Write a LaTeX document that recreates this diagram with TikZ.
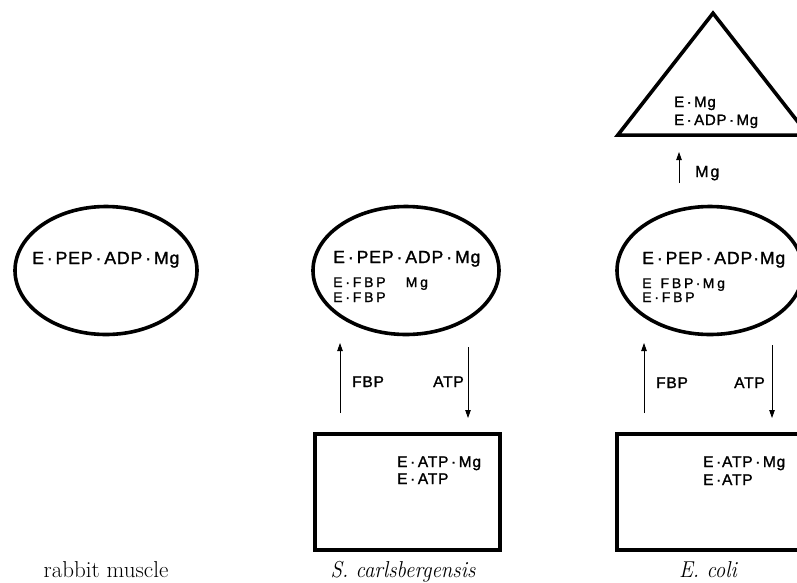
\documentclass[tikz,border=0pt]{standalone}
\usepackage{fontspec}
\newfontfamily\labelfont[FakeBold=1.3, LetterSpace=5]{Liberation Sans}
\usetikzlibrary{shapes.geometric,arrows.meta}

\tikzset{
  thickline/.style={line width=3.6pt},
  complexring/.style={draw, thickline, ellipse, inner sep=0pt,
    minimum width=186pt, minimum height=128pt},
  statebox/.style={draw, thickline, inner sep=0pt, anchor=north west},
  flow/.style={line width=0.8pt, -{Triangle[length=8pt,width=5.5pt]}},
  species/.style={anchor=base west, inner sep=0pt, font=\labelfont},
  big/.style={species, font=\labelfont\fontsize{17.6}{17.6}\selectfont},
  small/.style={species, font=\labelfont\fontsize{14}{14}\selectfont\addfontfeatures{LetterSpace=20}},
  mid/.style={species, font=\labelfont\fontsize{15.5}{15.5}\selectfont},
  tri/.style={species, font=\labelfont\fontsize{15}{15}\selectfont},
  caption/.style={anchor=base, inner sep=0pt, font=\fontsize{23}{23}\selectfont}
}
\newcommand{\narrowit}[1]{\scalebox{0.91}[1]{\itshape #1}}

\begin{document}
\begin{tikzpicture}[x=1pt, y=-1pt]
\useasboundingbox (0,0) rectangle (797,582);
\clip (0,0) rectangle (797,582);

% --- rabbit muscle ---
\node[complexring, minimum width=182pt] (rmR) at (106,270.5) {};
\node[big] (rmR1) at (32,264) {E\,·\,PEP\,·\,ADP\,·\,Mg};
\node[caption] (rmcap) at (106,577) {rabbit muscle};

% --- S. carlsbergensis ---
\node[complexring] (scR) at (406,270.5) {};
\node[big]   (scR1) at (333,263) {E\,·\,PEP\,·\,ADP\,·\,Mg};
\node[small] (scR2) at (333,287) {E·FBP\ \ \ Mg};
\node[small] (scR3) at (333,302) {E·FBP};

\node[statebox, minimum width=185pt, minimum height=116pt] (scT) at (313,432) {};
\node[mid] (scT1) at (397,467) {E\,·\,ATP\,·\,Mg};
\node[mid] (scT2) at (397,484) {E\,·\,ATP};

\coordinate (scUpA) at (340,413);
\coordinate (scUpB) at (340,343);
\coordinate (scDnA) at (468,347);
\coordinate (scDnB) at (468,418);
\draw[flow] (scUpA) -- (scUpB);
\draw[flow] (scDnA) -- (scDnB);
\node[mid] (scFBP) at (352,387) {FBP};
\node[mid] (scATP) at (433,387) {ATP};
\node[caption] (sccap) at (403,577) {\narrowit{S. carlsbergensis}};

% --- E. coli ---
\node[draw, thickline, isosceles triangle, isosceles triangle apex angle=76,
  shape border rotate=90, inner sep=0pt, minimum height=122pt,
  anchor=south] (ecD) at (713,137) {};
\node[tri] (ecD1) at (674,107) {E\,·\,Mg};
\node[tri] (ecD2) at (674,125) {E\,·\,ADP\,·\,Mg};

\coordinate (ecMgA) at (679,183);
\coordinate (ecMgB) at (679,152);
\draw[flow] (ecMgA) -- (ecMgB);
\node[mid, font=\labelfont\fontsize{16}{16}\selectfont\addfontfeatures{LetterSpace=12}] (ecMg) at (695,177) {Mg};

\node[complexring] (ecR) at (710,270.5) {};
\node[big]   (ecR1) at (642,264) {E\,·\,PEP\,·\,ADP·Mg};
\node[small] (ecR2) at (642,288) {E\ \,FBP\,·\,Mg};
\node[small] (ecR3) at (642,302) {E·FBP};

\node[statebox, minimum width=190pt, minimum height=116pt] (ecT) at (615,432) {};
\node[mid] (ecT1) at (703,467) {E\,·ATP\,·\,Mg};
\node[mid] (ecT2) at (703,485) {E\,·ATP};

\coordinate (ecUpA) at (644,413);
\coordinate (ecUpB) at (644,343);
\coordinate (ecDnA) at (772,345);
\coordinate (ecDnB) at (772,418);
\draw[flow] (ecUpA) -- (ecUpB);
\draw[flow] (ecDnA) -- (ecDnB);
\node[mid] (ecFBP) at (656,388) {FBP};
\node[mid] (ecATP) at (734,388) {ATP};
\node[caption] (eccap) at (708,577) {\narrowit{E. coli}};
\end{tikzpicture}
\end{document}
